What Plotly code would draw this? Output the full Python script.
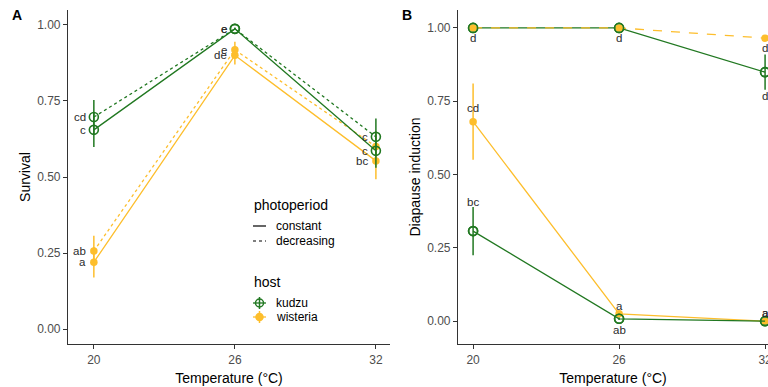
import plotly.graph_objects as go

# ---------------- data ----------------
temps = [20, 26, 32]
x_ticks = [20, 26, 32]
y_ticks = [0.0, 0.25, 0.5, 0.75, 1.0]

# Panel A: survival
surv_kudzu_const = [0.655, 0.987, 0.586]
surv_kudzu_const_err = [0.056, 0.004, 0.056]
surv_kudzu_decr = [0.697, 0.987, 0.632]
surv_kudzu_decr_err = [0.056, 0.004, 0.060]
surv_wist_const = [0.220, 0.900, 0.553]
surv_wist_const_err = [0.050, 0.030, 0.060]
surv_wist_decr = [0.257, 0.918, 0.600]
surv_wist_decr_err = [0.050, 0.027, 0.050]
lab_surv_kudzu_const = ["c", "e", "c"]
lab_surv_kudzu_decr = ["cd", "e", "c"]
lab_surv_wist_const = ["a", "de", "bc"]
lab_surv_wist_decr = ["ab", "e", ""]

# Panel B: diapause induction
dia_kudzu_const = [0.307, 0.008, 0.0]
dia_kudzu_const_err = [0.082, 0.004, 0.0]
dia_kudzu_decr = [1.0, 1.0, 0.849]
dia_kudzu_decr_err = [0.0, 0.0, 0.060]
dia_wist_const = [0.680, 0.025, 0.0]
dia_wist_const_err = [0.130, 0.008, 0.0]
dia_wist_decr = [1.0, 1.0, 0.965]
dia_wist_decr_err = [0.0, 0.0, 0.010]
lab_dia_kudzu_const = ["bc", "ab", "a"]
lab_dia_kudzu_decr = ["", "", "d"]
lab_dia_wist_const = ["cd", "a", "a"]
lab_dia_wist_decr = ["d", "d", "d"]
# label vertical offsets in px (style)
off_dia_kudzu_const = [29, -11, 8]
off_dia_kudzu_decr = [-10, -10, -24]
off_dia_wist_const = [14, 8, 8]
off_dia_wist_decr = [-10, -10, -10]

GREEN = "#217821"
YELLOW = "#FDBE2C"
FONT = "Liberation Sans, Arial, sans-serif"
W, H = 768, 387


def px(x, y):
    return x / W, 1 - y / H


fig = go.Figure()


def add_series(xa, ya, y, err, color, host, dash):
    if host == "kudzu":
        marker = dict(symbol="circle-open", size=9, color=color, line=dict(width=1.6, color=color))
    else:
        marker = dict(symbol="circle", size=7.5, color=color)
    fig.add_trace(go.Scatter(
        x=temps, y=y, xaxis=xa, yaxis=ya, mode="lines+markers",
        line=dict(color=color, width=1.3, dash=dash),
        marker=marker,
        error_y=dict(type="data", array=err, visible=True, width=0, thickness=1.5, color=color),
        showlegend=False, cliponaxis=False, hoverinfo="skip"))


# Panel A (wisteria first, kudzu on top)
add_series("x", "y", surv_wist_const, surv_wist_const_err, YELLOW, "wisteria", "solid")
add_series("x", "y", surv_wist_decr, surv_wist_decr_err, YELLOW, "wisteria", "dot")
add_series("x", "y", surv_kudzu_const, surv_kudzu_const_err, GREEN, "kudzu", "solid")
add_series("x", "y", surv_kudzu_decr, surv_kudzu_decr_err, GREEN, "kudzu", "dot")

# Panel B
add_series("x2", "y2", dia_wist_const, dia_wist_const_err, YELLOW, "wisteria", "solid")
add_series("x2", "y2", dia_kudzu_const, dia_kudzu_const_err, GREEN, "kudzu", "solid")
add_series("x2", "y2", dia_kudzu_decr, dia_kudzu_decr_err, GREEN, "kudzu", "solid")
add_series("x2", "y2", dia_wist_decr, dia_wist_decr_err, YELLOW, "wisteria", "dash")
# redraw kudzu markers on top at shared points
for vals in (dia_kudzu_decr, dia_kudzu_const):
    fig.add_trace(go.Scatter(x=temps, y=vals, xaxis="x2", yaxis="y2", mode="markers",
                             marker=dict(symbol="circle-open", size=9, color=GREEN,
                                         line=dict(width=1.6, color=GREEN)),
                             showlegend=False, cliponaxis=False, hoverinfo="skip"))

annotations = []
lab_font = dict(family=FONT, size=11.5, color="#2b2b2b")

for vals, labs in [(surv_kudzu_const, lab_surv_kudzu_const), (surv_kudzu_decr, lab_surv_kudzu_decr),
                   (surv_wist_const, lab_surv_wist_const), (surv_wist_decr, lab_surv_wist_decr)]:
    for t, v, l in zip(temps, vals, labs):
        if l:
            annotations.append(dict(x=t, y=v, xref="x", yref="y", text=l, showarrow=False,
                                    xanchor="right", yanchor="middle", xshift=-6, font=lab_font))

for vals, labs, offs in [(dia_kudzu_const, lab_dia_kudzu_const, off_dia_kudzu_const),
                         (dia_kudzu_decr, lab_dia_kudzu_decr, off_dia_kudzu_decr),
                         (dia_wist_const, lab_dia_wist_const, off_dia_wist_const),
                         (dia_wist_decr, lab_dia_wist_decr, off_dia_wist_decr)]:
    for t, v, l, o in zip(temps, vals, labs, offs):
        if l:
            annotations.append(dict(x=t, y=v, xref="x2", yref="y2", text=l, showarrow=False,
                                    xanchor="center", yanchor="middle", yshift=o, font=lab_font))

# panel letters
for txt, xx, yy in [("A", 17, 15), ("B", 407, 15)]:
    px_, py_ = px(xx, yy)
    annotations.append(dict(x=px_, y=py_, xref="paper", yref="paper", text="<b>%s</b>" % txt,
                            showarrow=False, xanchor="center", yanchor="middle",
                            font=dict(family=FONT, size=14, color="black")))

# manual legend
leg_font = dict(family=FONT, size=12, color="black")
title_font = dict(family=FONT, size=14, color="black")
for txt, yy, f in [("photoperiod", 205, title_font), ("constant", 226, leg_font),
                   ("decreasing", 241, leg_font), ("host", 282, title_font),
                   ("kudzu", 303, leg_font), ("wisteria", 317, leg_font)]:
    xx = 252 if f is title_font else 274
    a, b = px(xx, yy)
    annotations.append(dict(x=a, y=b, xref="paper", yref="paper", text=txt, showarrow=False,
                            xanchor="left", yanchor="middle", font=f))

shapes = []
for yy, dash in [(226, "solid"), (241, "dot")]:
    x0, y0 = px(253, yy)
    x1, _ = px(266, yy)
    shapes.append(dict(type="line", xref="paper", yref="paper", x0=x0, x1=x1, y0=y0, y1=y0,
                       line=dict(color="black", width=1.2, dash=dash)))
for yy, col, host in [(303, GREEN, "kudzu"), (317, YELLOW, "wisteria")]:
    x0, yc = px(253, yy)
    x1, _ = px(266, yy)
    xc, _ = px(259.5, yy)
    _, yt = px(0, yy - 6)
    _, yb = px(0, yy + 6)
    shapes.append(dict(type="line", xref="paper", yref="paper", x0=x0, x1=x1, y0=yc, y1=yc,
                       line=dict(color=col, width=1.3)))
    shapes.append(dict(type="line", xref="paper", yref="paper", x0=xc, x1=xc, y0=yb, y1=yt,
                       line=dict(color=col, width=1.5)))
    r = 4 if host == "kudzu" else 3.5
    shapes.append(dict(type="circle", xref="paper", yref="paper", xsizemode="pixel", ysizemode="pixel",
                       xanchor=xc, yanchor=yc, x0=-r, x1=r, y0=-r, y1=r,
                       fillcolor="rgba(0,0,0,0)" if host == "kudzu" else col,
                       line=dict(color=col, width=1.5)))

axis_common = dict(showline=True, linecolor="#333333", linewidth=1.2, ticks="outside", ticklen=4,
                   tickwidth=1, tickcolor="#333333", showgrid=False, zeroline=False,
                   tickfont=dict(family=FONT, size=12, color="#4D4D4D"), automargin=False,
                   ticklabeloverflow="allow")

ydom = [1 - 344 / H, 1 - 10 / H]
tfont = dict(family=FONT, size=14, color="black")
fig.update_layout(
    width=W, height=H, margin=dict(l=0, r=0, t=0, b=0),
    paper_bgcolor="white", plot_bgcolor="white", showlegend=False,
    xaxis=dict(axis_common, domain=[68 / W, 390 / W], range=[18.9, 32.6], tickvals=x_ticks,
               title=dict(text="Temperature (°C)", font=tfont, standoff=7), anchor="y"),
    yaxis=dict(axis_common, domain=ydom, range=[-0.049, 1.049], tickvals=y_ticks, tickformat=".2f",
               title=dict(text="Survival", font=tfont, standoff=3), anchor="x"),
    xaxis2=dict(axis_common, domain=[458 / W, 1.0], range=[19.38, 32.12], tickvals=x_ticks,
                title=dict(text="Temperature (°C)", font=tfont, standoff=7), anchor="y2"),
    yaxis2=dict(axis_common, domain=ydom, range=[-0.078, 1.061], tickvals=y_ticks, tickformat=".2f",
                title=dict(text="Diapause induction", font=tfont, standoff=3), anchor="x2"),
    annotations=annotations, shapes=shapes,
)

fig.write_html("out.html")
